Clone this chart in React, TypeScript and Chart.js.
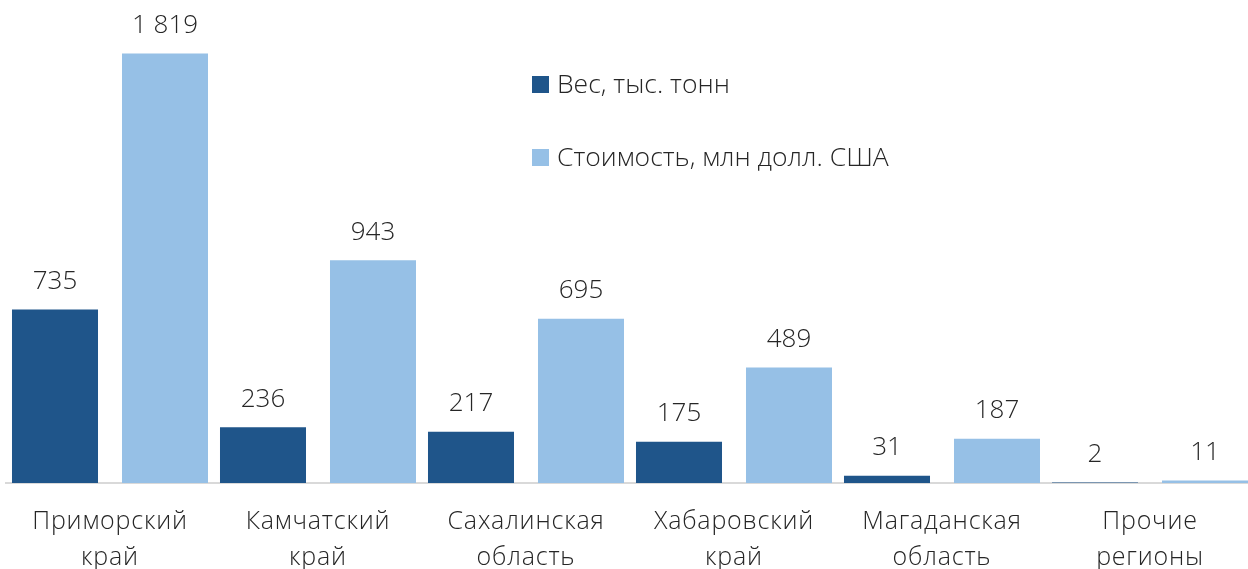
import React, { useEffect, useRef } from "react";
import { Chart, registerables } from "chart.js";

Chart.register(...registerables);

const categories: string[][] = [
  ["Приморский", "край"],
  ["Камчатский", "край"],
  ["Сахалинская", "область"],
  ["Хабаровский", "край"],
  ["Магаданская", "область"],
  ["Прочие", "регионы"],
];
const weightValues = [735, 236, 217, 175, 31, 2];
const costValues = [1819, 943, 695, 489, 187, 11];
const seriesLabels = ["Вес, тыс. тонн", "Стоимость, млн долл. США"];

const DARK = "rgb(31,85,138)";
const LIGHT = "rgb(150,192,230)";
const TEXT = "#262626";
const FONT = "'Open Sans', 'DejaVu Sans', sans-serif";

const fmt = (v: number) => String(v).replace(/\B(?=(\d{3})+(?!\d))/g, " ");

const customPlugin = {
  id: "custom",
  beforeDraw(chart: any) {
    (chart.ctx as any).letterSpacing = "0.8px";
  },
  beforeLayout(chart: any) {
    (chart.ctx as any).letterSpacing = "0.8px";
  },
  afterDatasetsUpdate(chart: any) {
    const shifts = [-3, 3];
    chart.data.datasets.forEach((_: any, i: number) => {
      const meta = chart.getDatasetMeta(i);
      meta.data.forEach((el: any) => {
        el.x += shifts[i];
      });
    });
  },
  afterDatasetsDraw(chart: any) {
    const ctx = chart.ctx;
    ctx.save();
    (ctx as any).letterSpacing = "0px";
    ctx.font = `300 26px ${FONT}`;
    ctx.fillStyle = TEXT;
    ctx.textAlign = "center";
    ctx.textBaseline = "middle";
    chart.data.datasets.forEach((ds: any, i: number) => {
      const meta = chart.getDatasetMeta(i);
      meta.data.forEach((el: any, j: number) => {
        ctx.fillText(fmt(ds.data[j]), el.x, el.y - 28);
      });
    });
    // legend
    const lx = 532;
    const ys = [84.5, 157.5];
    ctx.font = `300 26.5px ${FONT}`;
    ctx.textAlign = "left";
    chart.data.datasets.forEach((ds: any, i: number) => {
      ctx.fillStyle = ds.backgroundColor;
      ctx.fillRect(lx, ys[i] - 8.5, 17, 17);
      ctx.fillStyle = TEXT;
      ctx.fillText(ds.label, lx + 25, ys[i] + 1);
    });
    ctx.restore();
  },
};

export default function App() {
  const ref = useRef<HTMLCanvasElement | null>(null);
  useEffect(() => {
    if (!ref.current) return;
    const chart = new Chart(ref.current, {
      type: "bar",
      data: {
        labels: categories,
        datasets: [
          {
            label: seriesLabels[0],
            data: weightValues,
            backgroundColor: DARK,
            borderWidth: 0,
          },
          {
            label: seriesLabels[1],
            data: costValues,
            backgroundColor: LIGHT,
            borderWidth: 0,
          },
        ],
      },
      options: {
        animation: false,
        responsive: false,
        devicePixelRatio: 1,
        layout: { padding: { left: 6, right: 2, top: 0, bottom: 0 } },
        datasets: {
          bar: { categoryPercentage: 1, barPercentage: 0.827 },
        },
        plugins: {
          legend: { display: false },
          tooltip: { enabled: false },
        },
        scales: {
          x: {
            grid: { display: false, drawTicks: false },
            border: { display: true, color: "#d9d9d9", width: 2 },
            afterFit: (scale: any) => {
              scale.height = 86;
            },
            ticks: {
              color: TEXT,
              padding: 21,
              maxRotation: 0,
              autoSkip: false,
              font: { family: FONT, size: 25, weight: "300" as any, lineHeight: "36px" as any },
            },
          },
          y: {
            display: false,
            min: 0,
            max: 2045,
            grid: { display: false },
          },
        },
      },
      plugins: [customPlugin],
    });
    return () => chart.destroy();
  }, []);
  return (
    <div
      style={{
        position: "absolute",
        left: 0,
        top: 0,
        width: 1248,
        height: 569,
        overflow: "hidden",
        background: "#fff",
      }}
    >
      <canvas ref={ref} width={1256} height={569} style={{ display: "block" }} />
    </div>
  );
}
